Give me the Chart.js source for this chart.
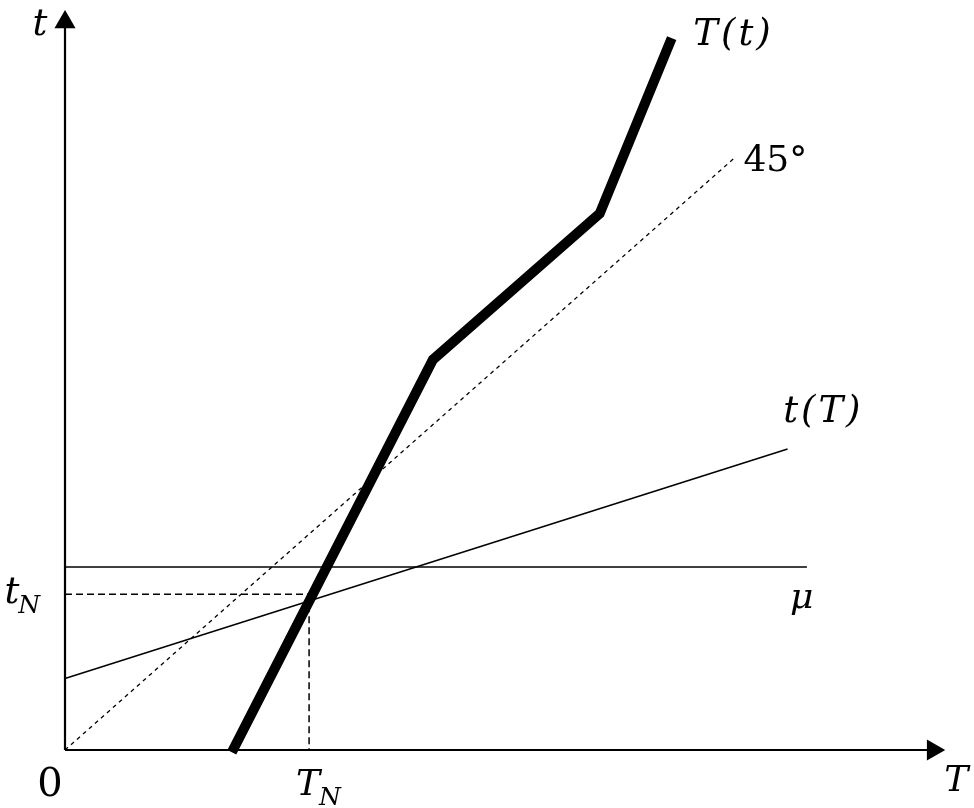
<!DOCTYPE html>
<html>
<head>
<meta charset="utf-8">
<script src="https://cdn.jsdelivr.net/npm/chart.js@4.4.1/dist/chart.umd.min.js"></script>
<style>
html,body{margin:0;padding:0;background:#fff;}
#wrap{width:974px;height:808px;}
</style>
</head>
<body>
<div id="wrap"><canvas id="c" width="974" height="808"></canvas></div>
<script>
// Data (abstract units: both axes 0..100)
const curveT_t = [ {x:19.0,y:-0.3}, {x:41.9,y:52.9}, {x:60.9,y:72.7}, {x:69.1,y:96.5} ]; // T(t)
const line45 = [ {x:0,y:0}, {x:76.3,y:80.3} ];                                      // 45°
const curvet_T = [ {x:0,y:9.7}, {x:82.3,y:40.8} ];                                    // t(T)
const muLine = [ {x:0,y:24.8}, {x:84.5,y:24.8} ];                                     // μ
const tNValue = 21.1;
const TNValue = 27.8;
const tNGuide = [ {x:0,y:tNValue}, {x:TNValue,y:tNValue} ];
const TNGuide = [ {x:TNValue,y:tNValue}, {x:TNValue,y:0} ];
const xAxisLine = [ {x:0,y:0}, {x:98.86,y:0} ];
const yAxisLine = [ {x:0,y:0}, {x:0,y:98.65} ];

// Text labels: [text, subscript, x, y, align, italic, size, spacing]
const labels = [
  ["t", "", -2.85, 96.9, "center", true, 37, 0],
  ["T(t)", "", 75.97, 95.6, "center", true, 37, 3],
  ["45°", "", 80.9, 78.5, "center", false, 36, 0],
  ["t(T)", "", 86.2, 44.4, "center", true, 37, 3],
  ["μ", "", 83.9, 19.2, "center", true, 36, 0],
  ["t", "N", -6.9, 19.9, "left", true, 37, 0],
  ["0", "", -1.71, -6.2, "center", false, 40, 0],
  ["T", "N", 26.3, -6.06, "left", true, 36, 0],
  ["T", "", 101.5, -5.5, "center", true, 36, 0]
];

const labelPlugin = {
  id: 'labels',
  afterDatasetsDraw(chart) {
    const ctx = chart.ctx;
    const xs = chart.scales.x, ys = chart.scales.y;
    ctx.save();
    ctx.fillStyle = '#000';
    ctx.textBaseline = 'alphabetic';
    for (const [txt, sub, x, y, align, italic, size, sp] of labels) {
      const px = xs.getPixelForValue(x), py = ys.getPixelForValue(y);
      ctx.font = (italic ? 'italic ' : '') + size + 'px "DejaVu Serif"';
      ctx.letterSpacing = sp + 'px';
      ctx.textAlign = align;
      ctx.fillText(txt, px + (align === 'center' ? sp / 2 : 0), py);
      ctx.letterSpacing = '0px';
      if (sub) {
        const w = ctx.measureText(txt).width;
        ctx.font = 'italic 25px "DejaVu Serif"';
        ctx.textAlign = 'left';
        ctx.fillText(sub, px + w - 1, py + 10);
      }
    }
    ctx.restore();
  }
};

function ds(data, opts) {
  return Object.assign({
    data: data, showLine: true, pointRadius: 0, borderColor: '#000',
    backgroundColor: '#000', borderWidth: 1.5, clip: false, fill: false,
    tension: 0
  }, opts);
}

new Chart(document.getElementById('c'), {
  type: 'scatter',
  data: {
    datasets: [
      ds(muLine, {borderWidth: 1.6}),
      ds(curvet_T, {borderWidth: 1.5}),
      ds(line45, {borderWidth: 1.3, borderDash: [4, 4]}),
      ds(tNGuide, {borderWidth: 1.5, borderDash: [7, 4]}),
      ds(TNGuide, {borderWidth: 1.5, borderDash: [7, 4]}),
      ds(xAxisLine, {borderWidth: 2.2, pointRadius: [0, 10], pointStyle: 'triangle', rotation: 90}),
      ds(yAxisLine, {borderWidth: 2.2, pointRadius: [0, 10], pointStyle: 'triangle', rotation: 0}),
      ds(curveT_t, {borderWidth: 10, borderCapStyle: 'butt', borderJoinStyle: 'miter'})
    ]
  },
  options: {
    responsive: false,
    devicePixelRatio: 1,
    animation: false,
    layout: { padding: { left: 65, right: 31, top: 7, bottom: 58 } },
    plugins: { legend: { display: false }, tooltip: { enabled: false } },
    scales: {
      x: { type: 'linear', min: 0, max: 100, display: false },
      y: { type: 'linear', min: 0, max: 100, display: false }
    }
  },
  plugins: [labelPlugin]
});
</script>
</body>
</html>
